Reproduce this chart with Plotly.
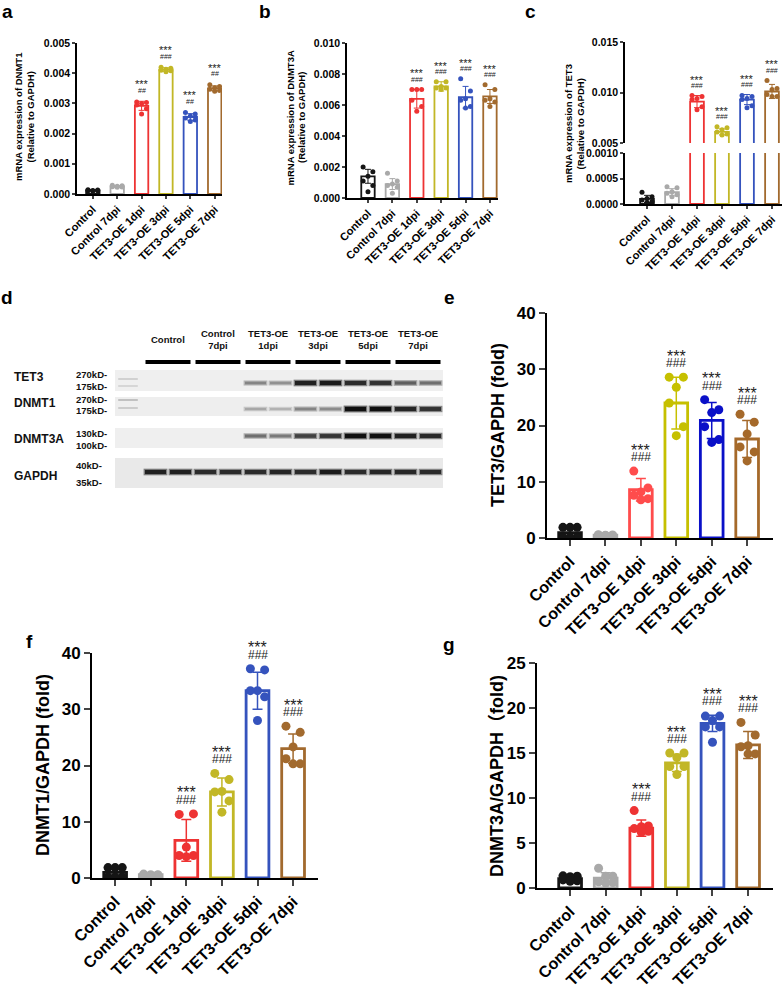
import plotly.graph_objects as go

W, H = 783, 990
FONT = "Liberation Sans, Arial, Noto Sans CJK SC, sans-serif"

groups = ["Control", "Control 7dpi", "TET3-OE 1dpi", "TET3-OE 3dpi", "TET3-OE 5dpi", "TET3-OE 7dpi"]
colors = ["#151515", "#a9a9a9", "#ee3333", "#c2b726", "#3553bd", "#a26a2e"]
colors_e = ["#151515", "#a9a9a9", "#ff4c4c", "#c6c000", "#0a10c8", "#a5692a"]

# ---- a: DNMT1 mRNA ----
a_mean = [0.00012, 0.00025, 0.00292, 0.00412, 0.00255, 0.00350]
a_sd = [0.00002, 0.00003, 0.00015, 0.00006, 0.00011, 0.00008]
a_pts = [
    [0.00014, 0.00013, 0.00012, 0.00011, 0.00011, 0.00010],
    [0.00029, 0.00027, 0.00026, 0.00024, 0.00023, 0.00022],
    [0.00305, 0.00303, 0.00300, 0.00295, 0.00282, 0.00265],
    [0.00420, 0.00416, 0.00413, 0.00410, 0.00408, 0.00405],
    [0.00270, 0.00265, 0.00258, 0.00252, 0.00245, 0.00240],
    [0.00362, 0.00356, 0.00352, 0.00347, 0.00343, 0.00340],
]
a_star = ["", "", "***", "***", "***", "***"]
a_hash = ["", "", "##", "###", "##", "##"]

# ---- b: DNMT3A mRNA ----
b_mean = [0.00140, 0.00090, 0.00640, 0.00720, 0.00650, 0.00655]
b_sd = [0.00045, 0.00035, 0.00060, 0.00030, 0.00070, 0.00045]
b_pts = [
    [0.0020, 0.0017, 0.0014, 0.0011, 0.0008, 0.0004],
    [0.0016, 0.0011, 0.0009, 0.0008, 0.0007, 0.0003],
    [0.0070, 0.0070, 0.0070, 0.0063, 0.0059, 0.0056],
    [0.0075, 0.0075, 0.0072, 0.0071, 0.0071, 0.0070],
    [0.0077, 0.0069, 0.0064, 0.0063, 0.0059, 0.0058],
    [0.0073, 0.0070, 0.0064, 0.0063, 0.0062, 0.0059],
]
b_star = ["", "", "***", "***", "***", "***"]
b_hash = ["", "", "###", "###", "###", "###"]

# ---- c: TET3 mRNA (broken axis) ----
c_mean = [0.00010, 0.00023, 0.0091, 0.0061, 0.0093, 0.0101]
c_sd = [0.00007, 0.00007, 0.0006, 0.0003, 0.0005, 0.0007]
c_pts = [
    [0.00023, 0.00014, 0.00011, 0.00008, 0.00005, 0.00003],
    [0.00034, 0.00032, 0.00024, 0.00021, 0.00018, 0.00014],
    [0.0097, 0.0096, 0.0094, 0.0093, 0.0086, 0.0083],
    [0.0066, 0.0065, 0.0063, 0.0061, 0.0059, 0.0058],
    [0.0097, 0.0096, 0.0094, 0.0093, 0.0087, 0.0085],
    [0.0112, 0.0104, 0.0103, 0.0098, 0.0096, 0.0096],
]
c_star = ["", "", "***", "***", "***", "***"]
c_hash = ["", "", "###", "###", "###", "###"]

# ---- d: western blot band intensities (0..1), 12 lanes ----
blot_rows = ["TET3", "DNMT1", "DNMT3A", "GAPDH"]
tet3_band = [0, 0, 0, 0, 0.45, 0.40, 0.90, 0.92, 0.85, 0.82, 0.62, 0.55]
dnmt1_band = [0, 0, 0, 0, 0.30, 0.25, 0.45, 0.42, 0.97, 0.97, 0.88, 0.82]
dnmt3a_band = [0, 0, 0, 0, 0.55, 0.50, 0.75, 0.80, 0.97, 0.97, 0.90, 0.86]
gapdh_band = [0.90, 0.90, 0.85, 0.85, 0.85, 0.88, 0.85, 0.92, 0.85, 0.87, 0.87, 0.85]
ladder_band = [0.18, 0.15, 0.30, 0.22]
blot_headers = ["Control", "Control<br>7dpi", "TET3-OE<br>1dpi", "TET3-OE<br>3dpi", "TET3-OE<br>5dpi", "TET3-OE<br>7dpi"]
marker_labels = [["270kD-", "175kD-"], ["270kD-", "175kD-"], ["130kD-", "100kD-"], ["40kD-", "35kD-"]]

# ---- e: TET3/GAPDH ----
e_mean = [0.95, 0.50, 8.6, 24.0, 20.9, 17.6]
e_sd = [0.95, 0.08, 2.0, 4.6, 3.2, 3.3]
e_pts = [
    [1.9, 1.9, 1.9, 0.1, 0.1, 0.1],
    [0.60, 0.55, 0.50, 0.50, 0.45, 0.40],
    [11.9, 8.9, 8.2, 7.6, 7.0, 6.8],
    [28.6, 28.6, 26.8, 24.0, 19.8, 18.2],
    [24.6, 22.8, 22.3, 19.8, 17.5, 17.0],
    [22.0, 20.6, 18.5, 16.2, 15.3, 13.7],
]
e_star = ["", "", "***", "***", "***", "***"]
e_hash = ["", "", "###", "###", "###", "###"]

# ---- f: DNMT1/GAPDH ----
f_mean = [1.0, 0.6, 6.7, 15.3, 33.3, 23.0]
f_sd = [0.95, 0.1, 3.7, 2.5, 3.3, 2.6]
f_pts = [
    [1.85, 1.85, 1.85, 0.2, 0.2, 0.2],
    [0.7, 0.6, 0.6, 0.5, 0.5, 0.4],
    [11.3, 11.4, 5.5, 4.0, 4.0, 3.8],
    [18.6, 17.5, 15.4, 15.3, 13.7, 11.7],
    [37.2, 37.0, 33.3, 33.3, 32.2, 28.0],
    [27.0, 25.9, 23.3, 21.2, 20.3, 20.3],
]
f_star = ["", "", "***", "***", "***", "***"]
f_hash = ["", "", "###", "###", "###", "###"]

# ---- g: DNMT3A/GAPDH ----
g_mean = [1.05, 1.10, 6.65, 13.9, 18.3, 15.9]
g_sd = [0.25, 0.60, 0.9, 0.95, 0.9, 1.5]
g_pts = [
    [1.35, 1.30, 1.25, 0.90, 0.80, 0.75],
    [2.2, 1.3, 1.3, 0.7, 0.6, 0.55],
    [8.6, 6.9, 6.8, 6.6, 6.3, 6.2],
    [15.0, 15.0, 14.5, 13.5, 13.5, 12.6],
    [19.1, 19.1, 18.6, 17.9, 17.9, 16.2],
    [18.4, 17.0, 15.8, 15.7, 14.9, 14.9],
]
g_star = ["", "", "***", "***", "***", "***"]
g_hash = ["", "", "###", "###", "###", "###"]

# ------------------------------------------------------------------
offsets = [-0.2, 0.2, 0.0, -0.2, 0.2, 0.0]


def dx(l, r):
    return [l / W, r / W]


def dy(t, b):
    return [1 - b / H, 1 - t / H]


fig = go.Figure()
annotations = []
shapes = []


def add_groups(xa, ya, means, sds, pts, cols, bw, lw, ms, ew, cap, idx=None, errors=True):
    for i in (idx if idx is not None else range(len(groups))):
        c = cols[i]
        fig.add_trace(go.Bar(
            x=[i], y=[means[i]], width=bw, xaxis=xa, yaxis=ya, showlegend=False,
            marker=dict(color="rgba(255,255,255,0)", line=dict(color=c, width=lw)),
            error_y=dict(type="data", array=[sds[i]], visible=errors, color=c, thickness=ew, width=cap),
            hoverinfo="skip"))
        fig.add_trace(go.Scatter(
            x=[i + offsets[k] for k in range(len(pts[i]))], y=pts[i], mode="markers",
            xaxis=xa, yaxis=ya, showlegend=False,
            marker=dict(color=c, size=ms, line=dict(width=0)), hoverinfo="skip"))


def add_sig(xa, ya, means, sds, pts, stars, hashes, sfont, hfont, hshift, sshift, idx=None):
    for i in (idx if idx is not None else range(len(groups))):
        if not stars[i]:
            continue
        top = max(max(pts[i]), means[i] + sds[i])
        annotations.append(dict(x=i, y=top, xref=xa, yref=ya, text=hashes[i], showarrow=False,
                                yanchor="middle", yshift=hshift,
                                font=dict(family=FONT, size=hfont, color="#222")))
        annotations.append(dict(x=i, y=top, xref=xa, yref=ya, text=stars[i], showarrow=False,
                                yanchor="middle", yshift=sshift,
                                font=dict(family=FONT, size=sfont, color="#222")))


def xaxis_cfg(dom, rng, anchor, fsize, lw, tl):
    return dict(domain=dom, range=rng, anchor=anchor, tickmode="array", tickvals=list(range(6)),
                ticktext=groups, tickangle=-45, ticks="outside", ticklen=tl, tickwidth=lw,
                showline=True, linecolor="black", linewidth=lw, showgrid=False, zeroline=False,
                automargin=False,
                tickfont=dict(family=FONT, size=fsize, color="black", weight="bold"), fixedrange=True)


def yaxis_cfg(dom, rng, anchor, vals, fmt, fsize, lw, tl):
    return dict(domain=dom, range=rng, anchor=anchor, tickmode="array", tickvals=vals,
                ticktext=[format(v, fmt) for v in vals], ticks="outside", ticklen=tl, tickwidth=lw,
                showline=True, linecolor="black", linewidth=lw, showgrid=False, zeroline=False,
                automargin=False,
                tickfont=dict(family=FONT, size=fsize, color="black", weight="bold"), fixedrange=True)


# panel a
add_groups("x", "y", a_mean, a_sd, a_pts, colors, 0.55, 1.8, 5, 1.0, 3)
add_sig("x", "y", a_mean, a_sd, a_pts, a_star, a_hash, 11, 7, 11, 17)
# panel b
add_groups("x2", "y2", b_mean, b_sd, b_pts, colors, 0.55, 1.8, 5, 1.0, 3)
add_sig("x2", "y2", b_mean, b_sd, b_pts, b_star, b_hash, 11, 7, 10, 16)
# panel c (bottom and top segments)
add_groups("x3", "y3", c_mean, c_sd, c_pts, colors, 0.55, 1.8, 5, 1.0, 3, idx=[0, 1])
for i in [2, 3, 4, 5]:
    fig.add_trace(go.Bar(x=[i], y=[c_mean[i]], width=0.55, xaxis="x3", yaxis="y3", showlegend=False,
                         marker=dict(color="rgba(255,255,255,0)", line=dict(color=colors[i], width=1.8)),
                         hoverinfo="skip"))
add_groups("x3", "y4", c_mean, c_sd, c_pts, colors, 0.55, 1.8, 5, 1.0, 3, idx=[2, 3, 4, 5])
add_sig("x3", "y4", c_mean, c_sd, c_pts, c_star, c_hash, 11, 7, 10, 16, idx=[2, 3, 4, 5])
# panel e
add_groups("x5", "y5", e_mean, e_sd, e_pts, colors_e, 0.64, 2.8, 9, 1.5, 5)
add_sig("x5", "y5", e_mean, e_sd, e_pts, e_star, e_hash, 16, 12, 14, 21)
# panel f
add_groups("x6", "y6", f_mean, f_sd, f_pts, colors, 0.64, 2.8, 9, 1.5, 5)
add_sig("x6", "y6", f_mean, f_sd, f_pts, f_star, f_hash, 16, 12, 14, 21)
# panel g
add_groups("x7", "y7", g_mean, g_sd, g_pts, colors, 0.64, 2.8, 9, 1.5, 5)
add_sig("x7", "y7", g_mean, g_sd, g_pts, g_star, g_hash, 16, 12, 14, 21)

# ---------------- western blot (panel d) ----------------
strip_box = [(370, 391), (397, 416), (428, 448), (458, 488)]   # pixel rows of strips
band_y = [383, 409, 436, 472]
strip_fill = ["#efefef", "#eeeeee", "#efefef", "#e9e9e9"]
ladder_y = [379, 386, 400, 408]
ladder_lane = -1.1
bands = [tet3_band, dnmt1_band, dnmt3a_band, gapdh_band]

for r in range(4):
    shapes.append(dict(type="rect", xref="x8", yref="y8", x0=-1.62, x1=11.5,
                       y0=strip_box[r][0], y1=strip_box[r][1], fillcolor=strip_fill[r],
                       line=dict(width=0), layer="below"))
for r, vals in enumerate(bands):
    lanes = [i for i, v in enumerate(vals) if v > 0]
    inten = [vals[i] for i in lanes]
    halo = ["rgb({0},{0},{0})".format(int(235 - 120 * v)) for v in inten]
    core = ["rgb({0},{0},{0})".format(int(225 * (1 - v) + 10)) for v in inten]
    fig.add_trace(go.Scatter(x=lanes, y=[band_y[r]] * len(lanes), mode="markers", xaxis="x8", yaxis="y8",
                             showlegend=False, hoverinfo="skip",
                             marker=dict(symbol="line-ew", size=17,
                                         line=dict(color=halo, width=[3.5 + 3.5 * v for v in inten]))))
    fig.add_trace(go.Scatter(x=lanes, y=[band_y[r]] * len(lanes), mode="markers", xaxis="x8", yaxis="y8",
                             showlegend=False, hoverinfo="skip",
                             marker=dict(symbol="line-ew", size=15,
                                         line=dict(color=core, width=[1.2 + 3.3 * v for v in inten]))))
fig.add_trace(go.Scatter(x=[ladder_lane] * len(ladder_band), y=ladder_y, mode="markers", xaxis="x8", yaxis="y8",
                         showlegend=False, hoverinfo="skip",
                         marker=dict(symbol="line-ew", size=14,
                                     line=dict(color=["rgb({0},{0},{0})".format(int(235 - 140 * v)) for v in ladder_band],
                                               width=2))))
for gi, txt in enumerate(blot_headers):
    cx = 2 * gi + 0.5
    shapes.append(dict(type="line", xref="x8", yref="y8", x0=cx - 0.9, x1=cx + 0.9, y0=362, y1=362,
                       line=dict(color="black", width=4)))
    annotations.append(dict(x=cx, y=339, xref="x8", yref="y8", text=txt, showarrow=False,
                            font=dict(family=FONT, size=9.5, color="#111", weight="bold"),
                            yanchor="middle"))
label_y = [377, 403, 439, 476]
marker_y = [(374, 387), (399, 410), (434, 445), (466, 482)]
for r, name in enumerate(blot_rows):
    annotations.append(dict(x=12 / W, y=1 - label_y[r] / H, xref="paper", yref="paper", text=name,
                            showarrow=False, xanchor="left", yanchor="middle",
                            font=dict(family=FONT, size=12, color="#111", weight="bold")))
    for k in range(2):
        annotations.append(dict(x=74 / W, y=1 - marker_y[r][k] / H, xref="paper", yref="paper",
                                text=marker_labels[r][k], showarrow=False, xanchor="left", yanchor="middle",
                                font=dict(family=FONT, size=9.5, color="#111", weight="bold")))

# ---------------- axis titles & panel letters ----------------
def ytitle(x, y, text, size):
    annotations.append(dict(x=x / W, y=1 - y / H, xref="paper", yref="paper", text=text, textangle=-90,
                            showarrow=False, xanchor="center", yanchor="middle",
                            font=dict(family=FONT, size=size, color="black", weight="bold")))


ytitle(19, 117, "mRNA expression of DNMT1", 9.5)
ytitle(30.5, 117, "(Relative to GAPDH)", 9.5)
ytitle(290.5, 118, "mRNA expression of DNMT3A", 9.5)
ytitle(302, 118, "(Relative to GAPDH)", 9.5)
ytitle(568, 124, "mRNA expression of TET3", 9.5)
ytitle(579.5, 124, "(Relative to GAPDH)", 9.5)
ytitle(498, 425, "TET3/GAPDH (fold)", 18)
ytitle(43, 765, "DNMT1/GAPDH (fold)", 18)
ytitle(497, 776, "DNMT3A/GAPDH（fold)", 18)

for letter, x, y in [("a", 7, 12), ("b", 265, 12), ("c", 530, 12), ("d", 7, 298),
                     ("e", 449, 297), ("f", 29, 641), ("g", 449, 644)]:
    annotations.append(dict(x=x / W, y=1 - y / H, xref="paper", yref="paper", text=letter, showarrow=False,
                            xanchor="center", yanchor="middle",
                            font=dict(family=FONT, size=19, color="black", weight="bold")))

lay = dict(
    width=W, height=H, margin=dict(l=0, r=0, t=0, b=0), paper_bgcolor="white", plot_bgcolor="rgba(0,0,0,0)",
    barmode="overlay", showlegend=False, font=dict(family=FONT),
    xaxis=xaxis_cfg(dx(77, 222), [-0.65, 5.3], "y", 11, 1.5, 3),
    yaxis=yaxis_cfg(dy(43, 194), [0, 0.005], "x", [0, 0.001, 0.002, 0.003, 0.004, 0.005], ".3f", 10.5, 1.5, 3),
    xaxis2=xaxis_cfg(dx(347, 498), [-0.86, 5.33], "y2", 11, 1.5, 3),
    yaxis2=yaxis_cfg(dy(43, 198), [0, 0.010], "x2", [0, 0.002, 0.004, 0.006, 0.008, 0.010], ".3f", 10.5, 1.5, 3),
    xaxis3=xaxis_cfg(dx(625, 782), [-0.88, 5.4], "y3", 11, 1.5, 3),
    yaxis3=yaxis_cfg(dy(153, 204), [0, 0.001], "x3", [0, 0.0005, 0.0010], ".4f", 10.5, 1.5, 3),
    yaxis4=yaxis_cfg(dy(42, 143), [0.005, 0.015], "x3", [0.005, 0.010, 0.015], ".3f", 10.5, 1.5, 3),
    xaxis5=xaxis_cfg(dx(547, 773), [-0.65, 5.73], "y5", 16, 2, 6),
    yaxis5=yaxis_cfg(dy(313, 538), [0, 40], "x5", [0, 10, 20, 30, 40], "d", 17, 2, 6),
    xaxis6=xaxis_cfg(dx(92, 318), [-0.65, 5.7], "y6", 16, 2, 6),
    yaxis6=yaxis_cfg(dy(653, 878), [0, 40], "x6", [0, 10, 20, 30, 40], "d", 17, 2, 6),
    xaxis7=xaxis_cfg(dx(537, 773), [-0.93, 5.7], "y7", 16, 2, 6),
    yaxis7=yaxis_cfg(dy(663, 888), [0, 25], "x7", [0, 5, 10, 15, 20, 25], "d", 17, 2, 6),
    xaxis8=dict(domain=dx(110, 445), range=[-1.82, 11.58], anchor="y8", visible=False, fixedrange=True,
                automargin=False),
    yaxis8=dict(domain=dy(325, 492), range=[492, 325], anchor="x8", visible=False, fixedrange=True,
                automargin=False),
    annotations=annotations, shapes=shapes,
)
fig.update_layout(**lay)
fig.write_html("out.html", config={"displayModeBar": False},
               post_script="document.body.style.margin='0';document.body.style.padding='0';")
